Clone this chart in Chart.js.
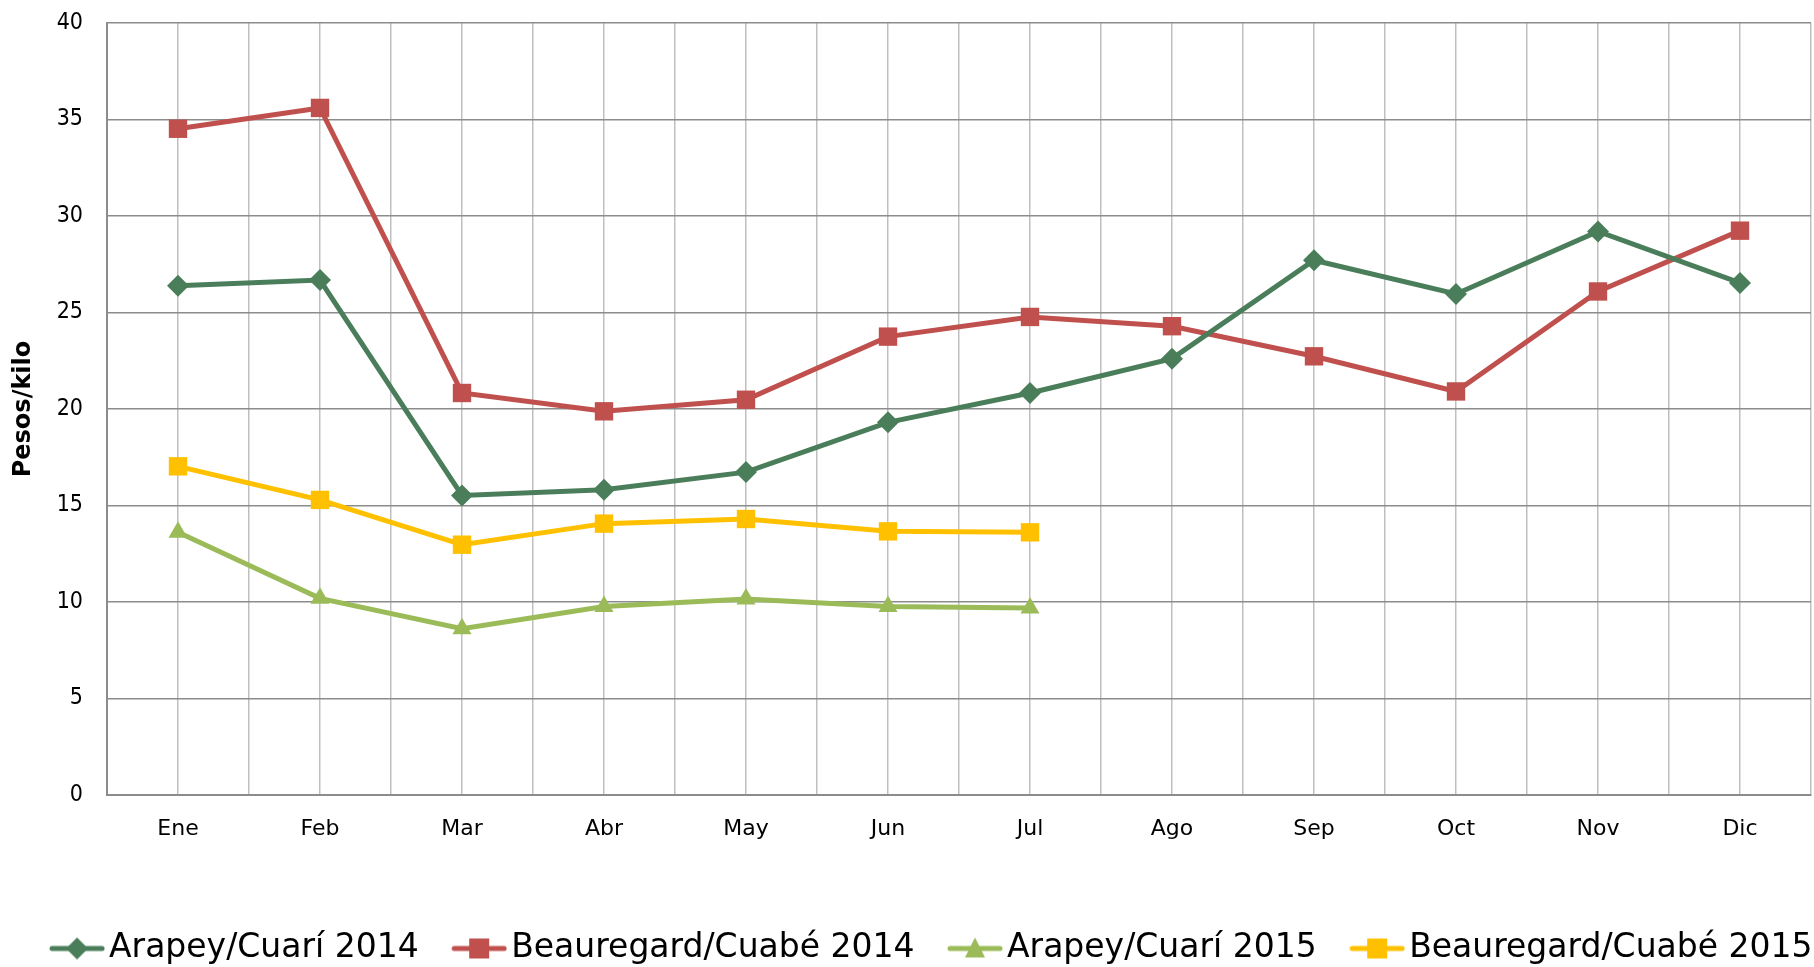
<!DOCTYPE html>
<html>
<head>
<meta charset="utf-8">
<script src="https://cdn.jsdelivr.net/npm/chart.js@4.4.0/dist/chart.umd.min.js"></script>
<style>
  body { margin: 0; background: #fff; overflow: hidden; }
  canvas { display: block; }
</style>
</head>
<body>
<canvas id="priceChart" width="1814" height="967"></canvas>
<script>
// data (pesos/kilo)
const months = ['Ene', 'Feb', 'Mar', 'Abr', 'May', 'Jun', 'Jul', 'Ago', 'Sep', 'Oct', 'Nov', 'Dic'];
const arapey2014 = [26.38, 26.68, 15.52, 15.82, 16.73, 19.31, 20.83, 22.61, 27.71, 25.96, 29.2, 26.53];
const beauregard2014 = [34.52, 35.6, 20.83, 19.88, 20.48, 23.75, 24.77, 24.29, 22.73, 20.91, 26.09, 29.24];
const arapey2015 = [13.61, 10.19, 8.62, 9.77, 10.15, 9.77, 9.69];
const beauregard2015 = [17.03, 15.29, 12.97, 14.06, 14.30, 13.66, 13.61];
const seriesNames = ['Arapey/Cuarí 2014', 'Beauregard/Cuabé 2014', 'Arapey/Cuarí 2015', 'Beauregard/Cuabé 2015'];
const yMin = 0, yMax = 40, yStep = 5;

const FONT = '"DejaVu Sans", sans-serif';
const FONT_NARROW = '"DejaVu Sans Condensed", "DejaVu Sans", sans-serif';
const colors = ['#4A7E5A', '#C0504D', '#9BBB59', '#FFC000'];
const styles = ['rectRot', 'rect', 'triangle', 'rect'];
const radii = [11, 13, 11, 13];

// legend box sizes (icon drawn at the right end of its box, close to the text)
const LEG_FONT = 33, LEG_PAD = 6, LEG_BOX = 70;

function toPoints(arr) {
  return arr.map((v, i) => ({ x: i, y: v }));
}

// legend icon: short line with the marker in the middle
function legendIcon(color, style) {
  const iw = LEG_BOX + LEG_FONT - 8; // canvas width so its right end sits 4px before the text
  const c = document.createElement('canvas');
  c.width = iw; c.height = 26;
  const g = c.getContext('2d');
  const x0 = iw - 56, cx = iw - 28, cy = 13;
  g.strokeStyle = color;
  g.lineWidth = 5;
  g.lineCap = 'round';
  g.beginPath(); g.moveTo(x0 + 3, cy); g.lineTo(iw - 3, cy); g.stroke();
  g.fillStyle = color;
  g.beginPath();
  if (style === 'rectRot') {
    g.moveTo(cx, cy - 11); g.lineTo(cx + 11, cy); g.lineTo(cx, cy + 11); g.lineTo(cx - 11, cy);
  } else if (style === 'triangle') {
    g.moveTo(cx, cy - 11); g.lineTo(cx + 10, cy + 9); g.lineTo(cx - 10, cy + 9);
  } else {
    g.rect(cx - 10, cy - 10, 20, 20);
  }
  g.closePath(); g.fill();
  return c;
}

const allData = [arapey2014, beauregard2014, arapey2015, beauregard2015];
const datasets = allData.map((arr, i) => ({
  label: seriesNames[i],
  data: toPoints(arr),
  borderColor: colors[i],
  backgroundColor: colors[i],
  borderWidth: 5,
  pointStyle: styles[i],
  pointRadius: radii[i],
  pointBorderWidth: 0,
  tension: 0,
  clip: 20
}));

const ctx = document.getElementById('priceChart').getContext('2d');
new Chart(ctx, {
  type: 'line',
  data: { datasets: datasets },
  options: {
    responsive: false,
    animation: false,
    layout: { autoPadding: false, padding: { top: 23, right: -16, left: 5, bottom: -8 } },
    plugins: {
      tooltip: { enabled: false },
      legend: {
        position: 'bottom',
        labels: {
          usePointStyle: true,
          pointStyleWidth: LEG_BOX,
          padding: LEG_PAD,
          color: '#000',
          font: { family: FONT, size: LEG_FONT },
          generateLabels: function(chart) {
            const items = Chart.defaults.plugins.legend.labels.generateLabels(chart);
            items.forEach((it, i) => { it.pointStyle = legendIcon(colors[i], styles[i]); });
            return items;
          }
        }
      }
    },
    scales: {
      x: {
        type: 'linear',
        min: -0.5,
        max: 11.5,
        afterFit: function(scale) {
          scale.height = 131;
          scale.paddingLeft = 0;
          scale.paddingRight = 3;
        },
        ticks: {
          stepSize: 0.5,
          autoSkip: false,
          maxRotation: 0,
          padding: 0,
          color: '#000',
          font: { family: FONT, size: 22 },
          callback: function(value) {
            const r = Math.round(value);
            return Math.abs(value - r) < 1e-6 ? months[r] : '';
          }
        },
        grid: { color: '#BFBFBF', lineWidth: 1.5, drawTicks: true, tickLength: 21, tickColor: 'rgba(0,0,0,0)' },
        border: { color: '#8C8C8C', width: 2 }
      },
      y: {
        min: yMin,
        max: yMax,
        afterFit: function(scale) {
          scale.width = 102;
          scale.paddingTop = 14;
          scale.paddingBottom = 0;
        },
        ticks: {
          stepSize: yStep,
          padding: 0,
          color: '#000',
          font: { family: FONT_NARROW, size: 23 }
        },
        grid: { color: '#8C8C8C', lineWidth: 1.5, drawTicks: true, tickLength: 24, tickColor: 'rgba(0,0,0,0)' },
        border: { color: '#8C8C8C', width: 2 },
        title: {
          display: true,
          text: 'Pesos/kilo',
          color: '#000',
          padding: { top: 4, bottom: 0 },
          font: { family: FONT, size: 24, weight: 'bold' }
        }
      }
    }
  }
});
</script>
</body>
</html>
